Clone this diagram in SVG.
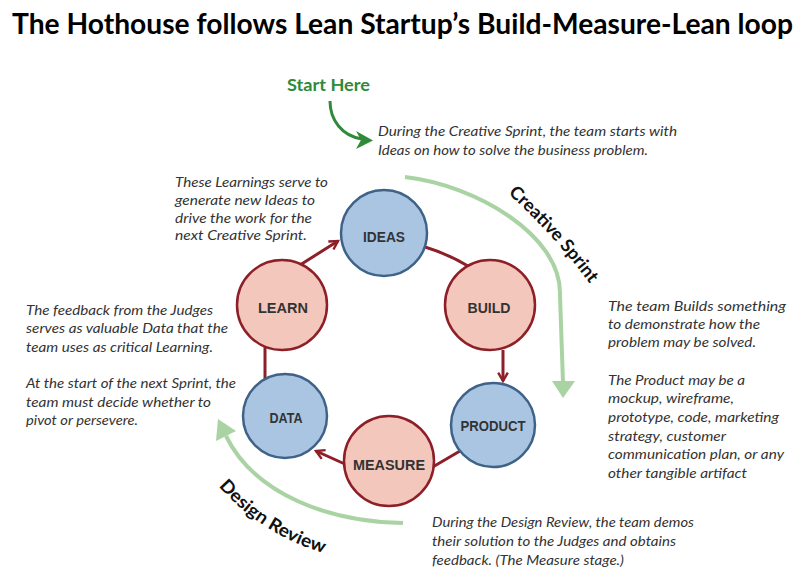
<svg xmlns="http://www.w3.org/2000/svg" width="805" height="578" viewBox="0 0 805 578">
  <style>
    .title { font-family: Lato, "Liberation Sans", sans-serif; font-weight: bold; font-size: 28px; fill: #000; }
    .start { font-family: Lato, "Liberation Sans", sans-serif; font-weight: bold; font-size: 17px; fill: #2f8a3a; }
    .note { font-family: Lato, "Liberation Sans", sans-serif; font-style: italic; font-size: 14px; fill: #333; }
    .phase { font-family: Lato, "Liberation Sans", sans-serif; font-weight: bold; font-size: 18px; fill: #111; }
    .label { font-family: "Liberation Sans", Arial, sans-serif; font-weight: bold; font-size: 14px; fill: #333; text-anchor: middle; }
    .blue { fill: #a9c5e2; stroke: #3f6288; stroke-width: 2.5; }
    .red { fill: #f3c7bb; stroke: #8e1f28; stroke-width: 2.5; }
    .link { fill: none; stroke: #8e1f28; stroke-width: 3; }
    .band { fill: none; stroke: #a9d3a3; stroke-width: 4; }
    .bandhead { fill: #a9d3a3; }
  </style>
  <defs>
    <marker id="chev" viewBox="0 0 10 10" refX="8" refY="5" markerWidth="4" markerHeight="4" orient="auto" markerUnits="strokeWidth">
      <path d="M1,1 L8,5 L1,9" fill="none" stroke="#8e1f28" stroke-width="2"/>
    </marker>
    <path id="creativePath" d="M 505 191 A 600 600 0 0 1 600 298"/>
    <path id="reviewPath" d="M 211 477 A 222 222 0 0 0 367 561"/>
  </defs>

  <text class="title" x="12" y="34" textLength="781" lengthAdjust="spacingAndGlyphs">The Hothouse follows Lean Startup’s Build-Measure-Lean loop</text>

  <!-- start marker -->
  <g id="start-here">
    <text class="start" x="287" y="91" textLength="83" lengthAdjust="spacingAndGlyphs">Start Here</text>
    <path d="M 330 101 C 330 120 342 136 362 139" fill="none" stroke="#2f8a3a" stroke-width="3"/>
    <polygon points="356,131 373,140.5 356,149 361,140" fill="#2f8a3a"/>
  </g>

  <!-- phase bands -->
  <g id="creative-sprint">
    <path class="band" d="M 405 177 C 475 185 562 235 560 295 L 563 383"/>
    <polygon class="bandhead" points="552,381 575,381 563,398"/>
    <text class="phase"><textPath href="#creativePath" startOffset="4" textLength="122" lengthAdjust="spacingAndGlyphs">Creative Sprint</textPath></text>
  </g>
  <g id="design-review">
    <path class="band" d="M 403 523 C 330 522 255 495 226 436"/>
    <polygon class="bandhead" points="218,419 236,431 216,441"/>
    <text class="phase"><textPath href="#reviewPath" startOffset="12" textLength="126" lengthAdjust="spacingAndGlyphs">Design Review</textPath></text>
  </g>

  <!-- loop connectors -->
  <g id="connectors">
    <path class="link" d="M 300 265 L 338 241" marker-end="url(#chev)"/>
    <path class="link" d="M 425 247 Q 448 254 468 266"/>
    <path class="link" d="M 503 350 L 503 381" marker-end="url(#chev)"/>
    <path class="link" d="M 460 451 L 431 468"/>
    <path class="link" d="M 347 465 L 316 451" marker-end="url(#chev)"/>
    <path class="link" d="M 265 347 L 265 379"/>
  </g>

  <!-- loop stages -->
  <g id="ideas">
    <circle class="blue" cx="384" cy="233" r="43"/>
    <text class="label" x="384" y="242" textLength="42" lengthAdjust="spacingAndGlyphs">IDEAS</text>
  </g>
  <g id="build">
    <circle class="red" cx="490" cy="305" r="45"/>
    <text class="label" x="489" y="313" textLength="43" lengthAdjust="spacingAndGlyphs">BUILD</text>
  </g>
  <g id="product">
    <circle class="blue" cx="493" cy="425" r="42"/>
    <text class="label" x="493" y="431" textLength="65" lengthAdjust="spacingAndGlyphs">PRODUCT</text>
  </g>
  <g id="measure">
    <circle class="red" cx="389" cy="461" r="45"/>
    <text class="label" x="389" y="470" textLength="72" lengthAdjust="spacingAndGlyphs">MEASURE</text>
  </g>
  <g id="data">
    <circle class="blue" cx="285" cy="416" r="42"/>
    <text class="label" x="286" y="423" textLength="33" lengthAdjust="spacingAndGlyphs">DATA</text>
  </g>
  <g id="learn">
    <circle class="red" cx="282" cy="305" r="45"/>
    <text class="label" x="283" y="313" textLength="50" lengthAdjust="spacingAndGlyphs">LEARN</text>
  </g>

  <!-- annotations -->
  <g id="note-creative">
    <text class="note" x="378" y="136" textLength="299" lengthAdjust="spacingAndGlyphs">During the Creative Sprint, the team starts with</text>
    <text class="note" x="378" y="155" textLength="270" lengthAdjust="spacingAndGlyphs">Ideas on how to solve the business problem.</text>
  </g>
  <g id="note-learnings">
    <text class="note" x="175" y="187" textLength="153" lengthAdjust="spacingAndGlyphs">These Learnings serve to</text>
    <text class="note" x="175" y="205" textLength="140" lengthAdjust="spacingAndGlyphs">generate new Ideas to</text>
    <text class="note" x="175" y="223" textLength="137" lengthAdjust="spacingAndGlyphs">drive the work for the</text>
    <text class="note" x="175" y="240" textLength="132" lengthAdjust="spacingAndGlyphs">next Creative Sprint.</text>
  </g>
  <g id="note-feedback">
    <text class="note" x="26" y="315" textLength="187" lengthAdjust="spacingAndGlyphs">The feedback from the Judges</text>
    <text class="note" x="26" y="333" textLength="202" lengthAdjust="spacingAndGlyphs">serves as valuable Data that the</text>
    <text class="note" x="26" y="352" textLength="187" lengthAdjust="spacingAndGlyphs">team uses as critical Learning.</text>
    <text class="note" x="26" y="388" textLength="210" lengthAdjust="spacingAndGlyphs">At the start of the next Sprint, the</text>
    <text class="note" x="26" y="407" textLength="185" lengthAdjust="spacingAndGlyphs">team must decide whether to</text>
    <text class="note" x="26" y="425" textLength="112" lengthAdjust="spacingAndGlyphs">pivot or persevere.</text>
  </g>
  <g id="note-build">
    <text class="note" x="608" y="311" textLength="178" lengthAdjust="spacingAndGlyphs">The team Builds something</text>
    <text class="note" x="608" y="329" textLength="152" lengthAdjust="spacingAndGlyphs">to demonstrate how the</text>
    <text class="note" x="608" y="347" textLength="148" lengthAdjust="spacingAndGlyphs">problem may be solved.</text>
    <text class="note" x="608" y="385" textLength="137" lengthAdjust="spacingAndGlyphs">The Product may be a</text>
    <text class="note" x="608" y="403" textLength="126" lengthAdjust="spacingAndGlyphs">mockup, wireframe,</text>
    <text class="note" x="608" y="422" textLength="171" lengthAdjust="spacingAndGlyphs">prototype, code, marketing</text>
    <text class="note" x="608" y="441" textLength="118" lengthAdjust="spacingAndGlyphs">strategy, customer</text>
    <text class="note" x="608" y="459" textLength="176" lengthAdjust="spacingAndGlyphs">communication plan, or any</text>
    <text class="note" x="608" y="478" textLength="139" lengthAdjust="spacingAndGlyphs">other tangible artifact</text>
  </g>
  <g id="note-review">
    <text class="note" x="432" y="527" textLength="262" lengthAdjust="spacingAndGlyphs">During the Design Review, the team demos</text>
    <text class="note" x="432" y="546" textLength="244" lengthAdjust="spacingAndGlyphs">their solution to the Judges and obtains</text>
    <text class="note" x="432" y="565" textLength="192" lengthAdjust="spacingAndGlyphs">feedback. (The Measure stage.)</text>
  </g>
</svg>
